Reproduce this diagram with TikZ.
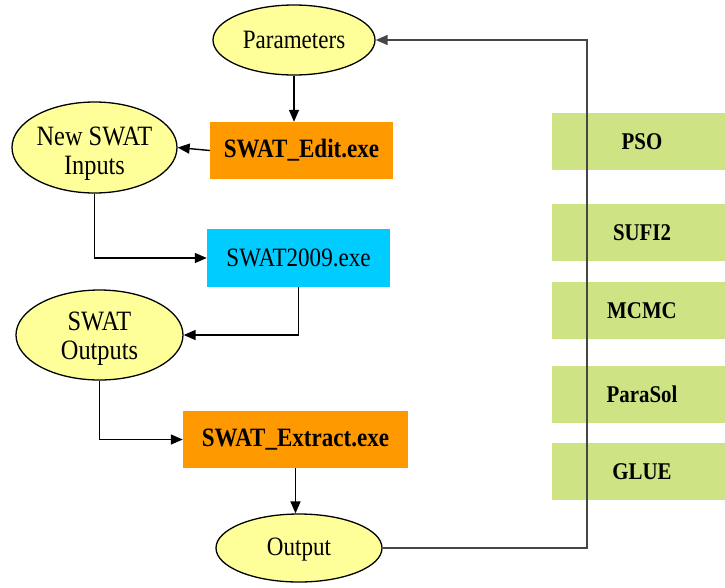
\documentclass[tikz,border=0pt]{standalone}
\usepackage{fontspec}
\setmainfont{Liberation Serif}[FakeStretch=0.87]
\usetikzlibrary{arrows.meta,shapes.geometric}

\definecolor{ellfill}{RGB}{255,255,153}
\definecolor{exeorange}{RGB}{255,153,0}
\definecolor{execyan}{RGB}{0,204,255}
\definecolor{algogreen}{RGB}{206,227,132}
\definecolor{loopgray}{RGB}{70,70,70}

\tikzset{
  txt/.style={font=\fontsize{26.5}{30}\selectfont, align=center},
  bigtxt/.style={font=\fontsize{28}{29}\selectfont, align=center, inner sep=0pt},
  oval/.style={txt, ellipse, draw=black, line width=1.3pt, fill=ellfill, inner sep=0pt},
  exebox/.style={txt, rectangle, inner sep=0pt, font=\bfseries\fontsize{26.5}{30}\selectfont},
  algobox/.style={rectangle, fill=algogreen, inner sep=0pt, minimum width=180pt, minimum height=57pt},
  algolabel/.style={font=\bfseries\fontsize{24}{28}\selectfont},
  flow/.style={line width=1.4pt, -{Triangle[length=12pt,width=10pt]}},
}

\begin{document}
\begin{tikzpicture}[x=1pt,y=-1pt]
\useasboundingbox (0,0) rectangle (725,587);
\clip (0,0) rectangle (725,587);

% optimisation algorithms (right column)
\node[algobox] (pso)  at (642,141.5) {};
\node[algobox] (sufi) at (642,232.5) {};
\node[algobox] (mcmc) at (642,310.5) {};
\node[algobox] (para) at (642,394.5) {};
\node[algobox] (glue) at (642,471.5) {};
\node[algolabel] (psot)  at (642,141.5) {PSO};
\node[algolabel] (sufit) at (642,232.5) {SUFI2};
\node[algolabel] (mcmct) at (642,310.5) {MCMC};
\node[algolabel] (parat) at (642,394.5) {ParaSol};
\node[algolabel] (gluet) at (642,471.5) {GLUE};

% SWAT-CUP workflow
\node[oval, minimum width=162pt, minimum height=70pt] (par) at (294,40) {Parameters};
\node[exebox, fill=exeorange, minimum width=183pt, minimum height=57pt] (edit) at (301.5,150.5) {SWAT\_Edit.exe};
\node[oval, minimum width=165pt, minimum height=91pt] (newin) at (94.5,147.5) {};
\node[bigtxt] (newint) at ([yshift=-6pt]newin.center) {New SWAT\\Inputs};
\node[exebox, font=\fontsize{26.5}{30}\selectfont, fill=execyan, minimum width=183pt, minimum height=58pt] (swat) at (298.5,258) {SWAT2009.exe};
\node[oval, minimum width=167pt, minimum height=90pt] (sout) at (99.5,335) {};
\node[bigtxt] (soutt) at ([yshift=-4pt]sout.center) {SWAT\\Outputs};
\node[exebox, fill=exeorange, minimum width=225pt, minimum height=57pt] (extr) at (295.5,439.5) {SWAT\_Extract.exe};
\node[oval, minimum width=166pt, minimum height=68pt] (outp) at (299,548) {};
\node[txt, inner sep=0pt] (outpt) at ([yshift=-2pt]outp.center) {Output};

\coordinate (loopdn) at (587,548);
\coordinate (loopup) at (587,40);

\draw[flow] (par.south) -- (par.south |- edit.north);
\draw[flow] (edit.west) -- (newin.east);
\draw[flow] (newin.south) |- (swat.west);
\draw[flow] (swat.south) |- (sout.east);
\draw[flow] (sout.south) |- (extr.west);
\draw[flow] (extr.south) -- (extr.south |- outp.north);
\draw[flow, draw=loopgray] (outp.east) -- (loopdn) -- (loopup) -- (par.east);
\end{tikzpicture}
\end{document}
